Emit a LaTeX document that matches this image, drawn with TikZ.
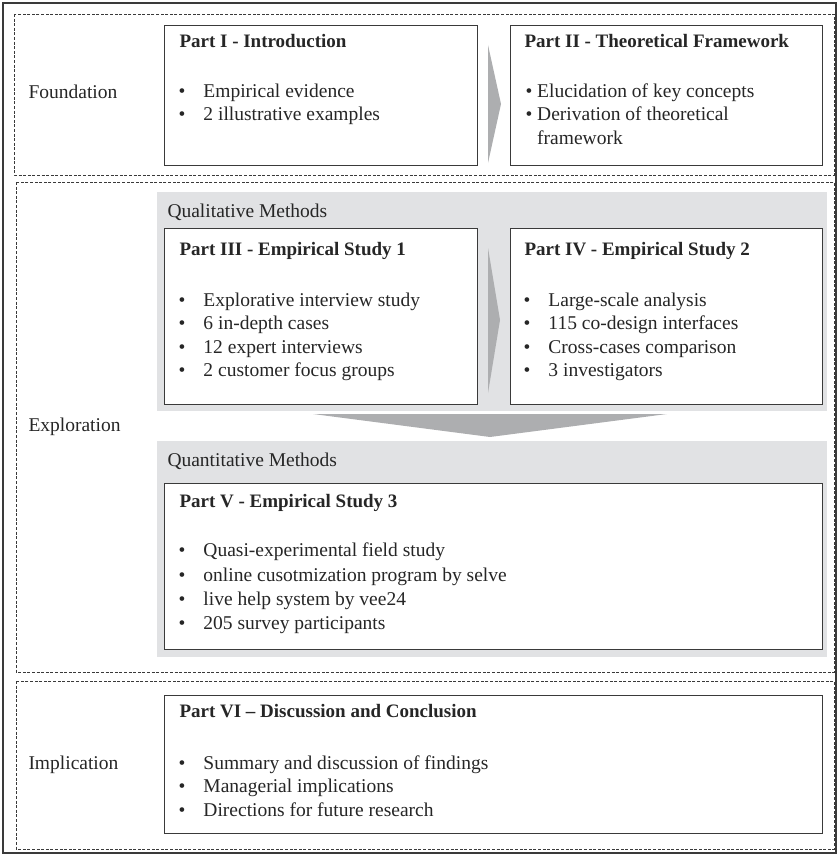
\documentclass[tikz,border=0pt]{standalone}
\usepackage{fontspec}
\setmainfont{Liberation Serif}
\usetikzlibrary{positioning}

\definecolor{panelgray}{HTML}{E1E2E4}
\definecolor{arrowgray}{HTML}{ADAEB0}
\definecolor{linegray}{HTML}{3A3A3A}
\newcommand{\itm}[1]{\makebox[25pt][l]{\textbullet}#1}

\begin{document}
\begin{tikzpicture}[x=1pt,y=-1pt,line width=1pt,font=\fontsize{19.5}{23}\selectfont,
  zone/.style={draw=linegray,line width=0.8pt,dash pattern=on 3pt off 1.6pt},
  panel/.style={fill=panelgray,draw=none},
  chevron/.style={fill=arrowgray,draw=none},
  partbox/.style={draw=linegray,line width=1.3pt,fill=white,anchor=north west,inner sep=0pt},
  txt/.style={anchor=west,inner sep=0pt,text height=14pt,text depth=5pt,text=black!85},
  ttl/.style={txt,font=\fontsize{19}{23}\selectfont\bfseries}]
  \useasboundingbox (0,0) rectangle (838,856);

  % 外框与三个区域
  \draw[linegray,line width=1.2pt] (3,3) rectangle (836,853);
  \draw[zone] (14,14) rectangle (834,175);
  \draw[zone] (16,182) rectangle (834,672);
  \draw[zone] (16,681) rectangle (834,849);

  % 灰色底板
  \fill[panel] (157,192) rectangle (827,411);
  \fill[panel] (157,441) rectangle (827,657);

  % 箭头
  \fill[chevron] (488,45) -- (501,104) -- (488,163) -- cycle;
  \fill[chevron] (488,248) -- (500,320) -- (488,393) -- cycle;
  \fill[chevron] (313,414) -- (667,414) -- (490,437) -- cycle;

  % 方框
  \node[partbox,minimum width=313pt,minimum height=140pt] (partI) at (164,25) {};
  \node[partbox,minimum width=312pt,minimum height=140pt] (partII) at (510,25) {};
  \node[partbox,minimum width=313pt,minimum height=176pt] (partIII) at (164,228) {};
  \node[partbox,minimum width=312pt,minimum height=176pt] (partIV) at (510,228) {};
  \node[partbox,minimum width=658pt,minimum height=166pt] (partV) at (164,483) {};
  \node[partbox,minimum width=658pt,minimum height=138pt] (partVI) at (164,695) {};

  % 区域标注
  \node[txt] (foundation) at (28,94) {Foundation};
  \node[txt] (exploration) at (28,427) {Exploration};
  \node[txt] (implication) at (28,765) {Implication};
  \node[txt] (quali) at (167,213) {Qualitative Methods};
  \node[txt] (quanti) at (167,462) {Quantitative Methods};

  % Part I
  \node[ttl] (tI) at (179,43) {Part I - Introduction};
  \node[txt] (iIa) at (178,93) {\itm{Empirical evidence}};
  \node[txt] (iIb) at (178,116) {\itm{2 illustrative examples}};

  % Part II
  \node[ttl] (tII) at (524,43) {Part II - Theoretical Framework};
  \node[txt] (iIIa) at (525,93) {\textbullet\ Elucidation of key concepts};
  \node[txt] (iIIb) at (525,116) {\textbullet\ Derivation of theoretical};
  \node[txt] (iIIc) at (525,140) {\phantom{\textbullet\ }framework};

  % Part III
  \node[ttl] (tIII) at (179,251) {Part III - Empirical Study 1};
  \node[txt] (iIIIa) at (178,302) {\itm{Explorative interview study}};
  \node[txt] (iIIIb) at (178,325) {\itm{6 in-depth cases}};
  \node[txt] (iIIIc) at (178,349) {\itm{12 expert interviews}};
  \node[txt] (iIIId) at (178,372) {\itm{2 customer focus groups}};

  % Part IV
  \node[ttl] (tIV) at (524,251) {Part IV - Empirical Study 2};
  \node[txt] (iIVa) at (523,302) {\itm{Large-scale analysis}};
  \node[txt] (iIVb) at (523,325) {\itm{115 co-design interfaces}};
  \node[txt] (iIVc) at (523,349) {\itm{Cross-cases comparison}};
  \node[txt] (iIVd) at (523,372) {\itm{3 investigators}};

  % Part V
  \node[ttl] (tV) at (179,503) {Part V - Empirical Study 3};
  \node[txt] (iVa) at (178,552) {\itm{Quasi-experimental field study}};
  \node[txt] (iVb) at (178,577) {\itm{online cusotmization program by selve}};
  \node[txt] (iVc) at (178,601) {\itm{live help system by vee24}};
  \node[txt] (iVd) at (178,625) {\itm{205 survey participants}};

  % Part VI
  \node[ttl] (tVI) at (179,713) {Part VI -- Discussion and Conclusion};
  \node[txt] (iVIa) at (178,765) {\itm{Summary and discussion of findings}};
  \node[txt] (iVIb) at (178,788) {\itm{Managerial implications}};
  \node[txt] (iVIc) at (178,812) {\itm{Directions for future research}};
\end{tikzpicture}
\end{document}
